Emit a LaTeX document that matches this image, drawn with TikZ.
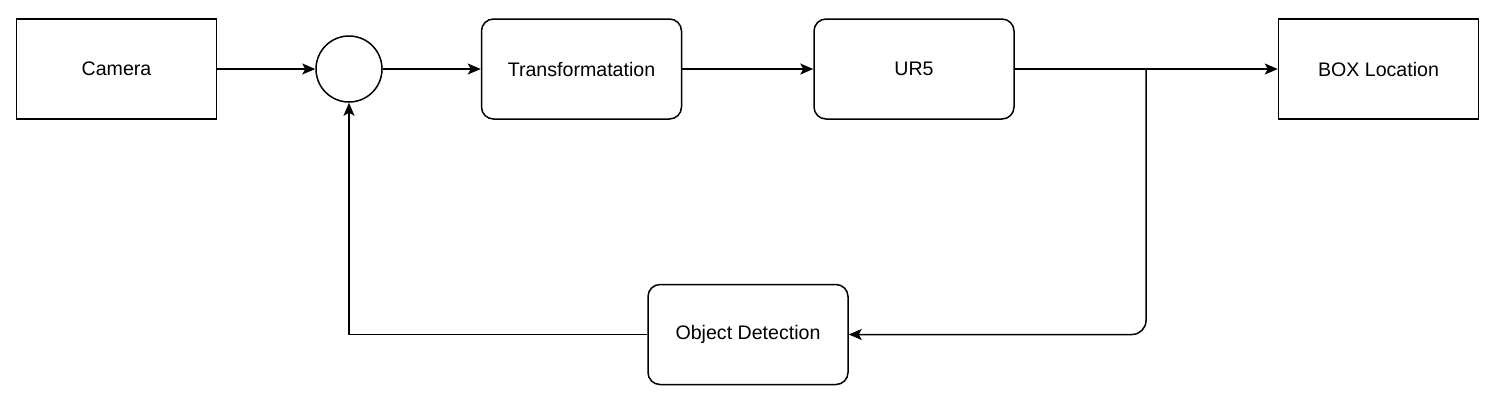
\documentclass[tikz,border=0pt]{standalone}
\usepackage{fontspec}
\setmainfont{Liberation Sans}
\usepackage{tikz}
\usetikzlibrary{arrows.meta,positioning,calc}
\definecolor{lnGray}{RGB}{0,0,0}

\begin{document}
\begin{tikzpicture}[
  x=0.5pt, y=-0.5pt,
  box/.style={draw=lnGray, line width=0.75pt, align=center, minimum width=100pt, minimum height=50pt, font=\fontsize{9.8}{11}\selectfont},
  rbox/.style={box, rounded corners=6pt},
  sumnode/.style={draw=lnGray, line width=0.75pt, circle, minimum size=33pt, inner sep=0pt},
  arr/.style={-{Stealth[length=6.5pt, width=5.5pt, inset=1.5pt]}, line width=0.75pt, draw=lnGray}
]
\useasboundingbox (0,0) rectangle (1497,409);
\node[box] (camera) at (116.5,69) {Camera};
\node[sumnode] (sum) at (349,69) {};
\node[rbox] (transf) at (581.5,69) {Transformatation};
\node[rbox] (ur5) at (914,69) {UR5};
\node[box] (boxloc) at (1378.5,69) {BOX Location};
\node[rbox] (detect) at (748,334.5) {Object Detection};
\coordinate (split) at (1146,69);
\draw[arr] (camera) -- (sum);
\draw[arr] (sum) -- (transf);
\draw[arr] (transf) -- (ur5);
\draw[arr] (ur5) -- (boxloc);
\draw[arr, rounded corners=7pt] (split) |- (detect);
\draw[arr] (detect) -| (sum);
\end{tikzpicture}
\end{document}
